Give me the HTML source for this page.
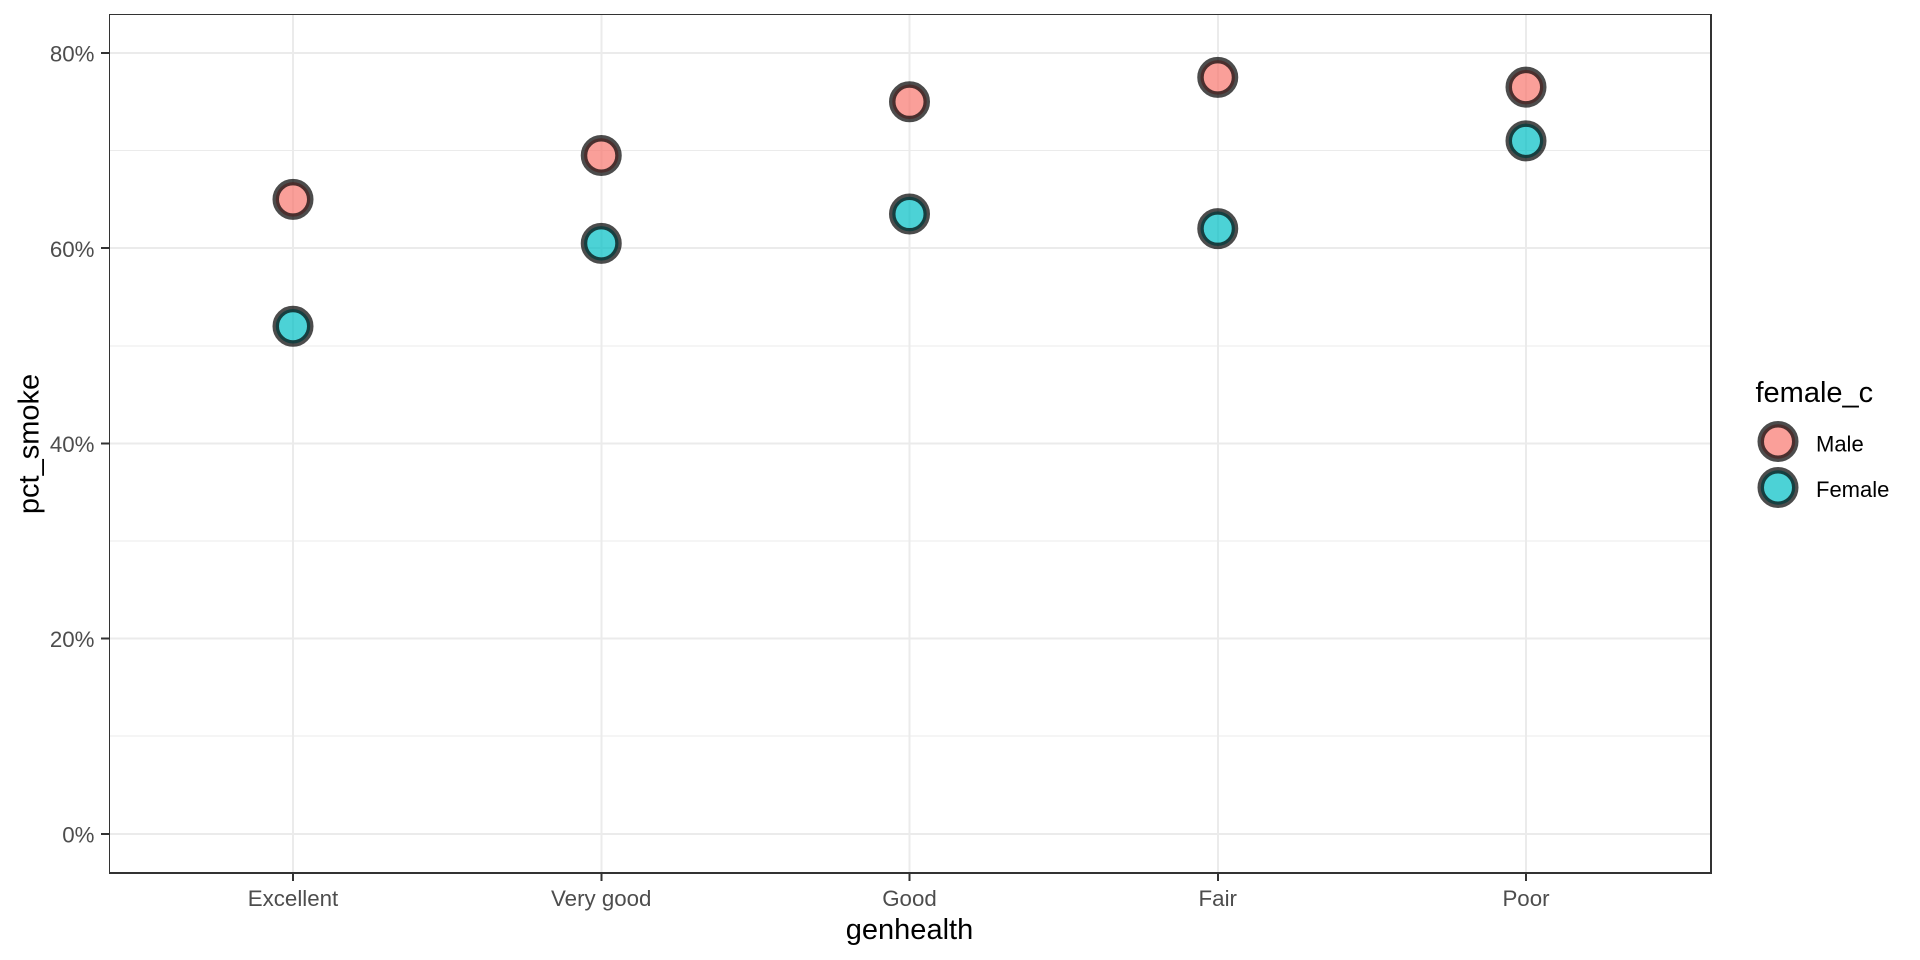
<!DOCTYPE html>
<html lang="en">
<head>
<meta charset="utf-8">
<title>Smoking percentage by general health and sex</title>
<style>
html,body{margin:0;padding:0;background:#fff;width:1920px;height:960px;overflow:hidden}
svg{display:block;font-family:"Liberation Sans",Arial,sans-serif}
</style>
</head>
<body>
<svg id="chart" xmlns="http://www.w3.org/2000/svg" width="1920" height="960" viewBox="0 0 1920 960">
  <rect x="0" y="0" width="1920" height="960" fill="#ffffff"/>
  <g id="grid"></g>
  <g id="points"></g>
  <g shape-rendering="crispEdges">
    <rect x="109" y="14" width="1603" height="1" fill="#333333"/>
    <rect x="109" y="14" width="1" height="860" fill="#333333"/>
    <rect x="1710" y="14" width="2" height="860" fill="#333333"/>
    <rect x="109" y="872" width="1603" height="2" fill="#333333"/>
  </g>
  <g id="axes"></g>
  <text x="909.5" y="939" font-size="29" text-anchor="middle" fill="#000000">genhealth</text>
  <text transform="translate(38.5 444) rotate(-90)" font-size="29" text-anchor="middle" fill="#000000">pct_smoke</text>
  <g>
    <text x="1755.5" y="402" font-size="29" fill="#000000">female_c</text>
    <g>
      <circle cx="1778" cy="441.5" r="17.25" fill="#F8766D" fill-opacity="0.7" stroke="#000000" stroke-opacity="0.7" stroke-width="6.5"/>
      <text x="1816" y="451.5" font-size="22" fill="#000000">Male</text>
    </g>
    <g>
      <circle cx="1778" cy="487.5" r="17.25" fill="#00BFC4" fill-opacity="0.7" stroke="#000000" stroke-opacity="0.7" stroke-width="6.5"/>
      <text x="1816" y="497" font-size="22" fill="#000000">Female</text>
    </g>
  </g>
</svg>
<script>
const categories = ["Excellent", "Very good", "Good", "Fair", "Poor"];
const maleValues = [65, 69.5, 75, 77.5, 76.5];
const femaleValues = [52, 60.5, 63.5, 62, 71];
const yTickValues = [0, 20, 40, 60, 80];
const yMinorValues = [10, 30, 50, 70];
const yTickLabels = ["0%", "20%", "40%", "60%", "80%"];

const NS = "http://www.w3.org/2000/svg";
const panel = { left: 109, right: 1712, top: 14, bottom: 874 };

function xScale(i) { return 293 + i * 308.25; }
function yScale(v) { return 833.8 - v * 9.76; }

function make(tag, attrs, parent) {
  const el = document.createElementNS(NS, tag);
  for (const k in attrs) el.setAttribute(k, attrs[k]);
  parent.appendChild(el);
  return el;
}

const gridG = document.getElementById("grid");
const pointsG = document.getElementById("points");
const axesG = document.getElementById("axes");

yMinorValues.forEach(function (v) {
  const l = make("line", { x1: panel.left, x2: panel.right, y1: yScale(v), y2: yScale(v), stroke: "#ebebeb", "stroke-width": 1, "shape-rendering": "crispEdges" }, gridG);
  
  
});
yTickValues.forEach(function (v) {
  const l = make("line", { x1: panel.left, x2: panel.right, y1: yScale(v), y2: yScale(v), stroke: "#ebebeb", "stroke-width": 2, "shape-rendering": "crispEdges" }, gridG);
  
  
});
categories.forEach(function (c, i) {
  const l = make("line", { x1: xScale(i), x2: xScale(i), y1: panel.top, y2: panel.bottom, stroke: "#ebebeb", "stroke-width": 2, "shape-rendering": "crispEdges" }, gridG);
  
  
});

function drawSeries(values, color, seriesName) {
  values.forEach(function (v, i) {
    const c = make("circle", { cx: xScale(i), cy: yScale(v), r: 17.25, fill: color, "fill-opacity": 0.7, stroke: "#000000", "stroke-opacity": 0.7, "stroke-width": 6.5 }, pointsG);
    
    
  });
}
drawSeries(maleValues, "#F8766D", "male");
drawSeries(femaleValues, "#00BFC4", "female");

yTickValues.forEach(function (v, i) {
  const t = make("line", { x1: 101, x2: 109, y1: yScale(v), y2: yScale(v), stroke: "#333333", "stroke-width": 2, "shape-rendering": "crispEdges" }, axesG);
  
  
  const lab = make("text", { x: 94.5, y: yScale(v) + 8.6, "font-size": 22.3, "text-anchor": "end", fill: "#4d4d4d" }, axesG);
  lab.textContent = yTickLabels[i];
  
  
});
categories.forEach(function (c, i) {
  const t = make("line", { x1: xScale(i), x2: xScale(i), y1: 874, y2: 881, stroke: "#333333", "stroke-width": 2, "shape-rendering": "crispEdges" }, axesG);
  
  
  const lab = make("text", { x: xScale(i), y: 906, "font-size": 22.3, "text-anchor": "middle", fill: "#4d4d4d" }, axesG);
  lab.textContent = c;
  
  
});
</script>
</body>
</html>
